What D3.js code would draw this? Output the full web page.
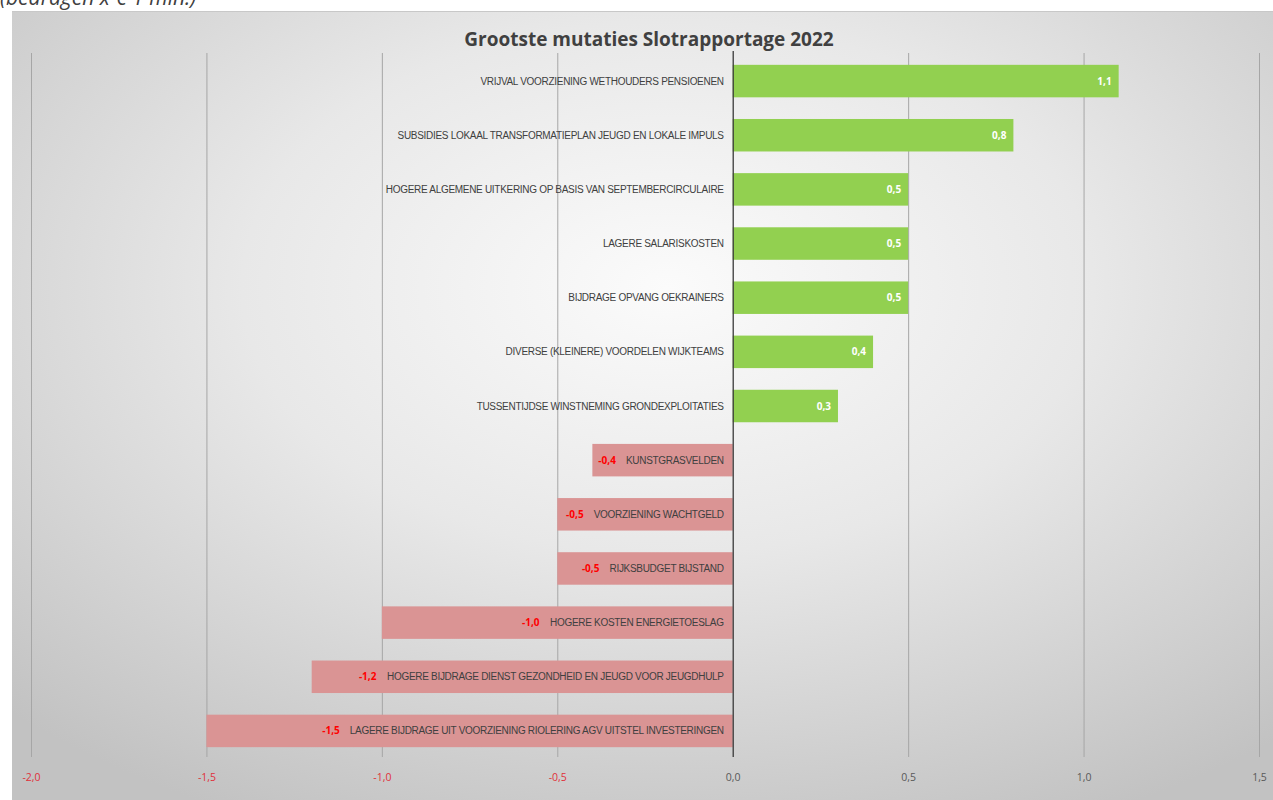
<!DOCTYPE html>
<html><head><meta charset="utf-8">
<script src="https://cdn.jsdelivr.net/npm/d3@7"></script>
<style>
body{margin:0;background:#fff;}
svg{display:block;}
</style></head>
<body>
<svg id="c" width="1273" height="800"></svg>
<script>
const categories = [
 "VRIJVAL VOORZIENING WETHOUDERS PENSIOENEN",
 "SUBSIDIES LOKAAL TRANSFORMATIEPLAN JEUGD EN LOKALE IMPULS",
 "HOGERE ALGEMENE UITKERING OP BASIS VAN SEPTEMBERCIRCULAIRE",
 "LAGERE SALARISKOSTEN",
 "BIJDRAGE OPVANG OEKRAINERS",
 "DIVERSE (KLEINERE) VOORDELEN WIJKTEAMS",
 "TUSSENTIJDSE WINSTNEMING GRONDEXPLOITATIES",
 "KUNSTGRASVELDEN",
 "VOORZIENING WACHTGELD",
 "RIJKSBUDGET BIJSTAND",
 "HOGERE KOSTEN ENERGIETOESLAG",
 "HOGERE BIJDRAGE DIENST GEZONDHEID EN JEUGD VOOR JEUGDHULP",
 "LAGERE BIJDRAGE UIT VOORZIENING RIOLERING AGV UITSTEL INVESTERINGEN"
];
const values = [1.1, 0.8, 0.5, 0.5, 0.5, 0.4, 0.3, -0.4, -0.5, -0.5, -1.0, -1.2, -1.5];
const tickValues = [-2.0, -1.5, -1.0, -0.5, 0.0, 0.5, 1.0, 1.5];
const title = "Grootste mutaties Slotrapportage 2022";
const subtitle = "(bedragen x € 1 mln.)";

const svg = d3.select("#c");
const fmt = v => d3.format(".1f")(v).replace(".", ",").replace("−","-");

// background panel
const defs = svg.append("defs");
const rg = defs.append("radialGradient").attr("id","bg")
  .attr("cx","0.52").attr("cy","0.35").attr("r","0.75");
rg.append("stop").attr("offset","0").attr("stop-color","#fbfbfb");
rg.append("stop").attr("offset","0.45").attr("stop-color","#e8e8e8");
rg.append("stop").attr("offset","1").attr("stop-color","#c2c2c2");
svg.append("rect").attr("x",12).attr("y",11).attr("width",1261).attr("height",789).attr("fill","url(#bg)");
svg.append("line").attr("x1",12).attr("x2",1273).attr("y1",11.5).attr("y2",11.5).attr("stroke","#c8c8c8");

svg.append("text").attr("x",0).attr("y",5).attr("font-family","'Open Sans', sans-serif")
  .attr("font-style","italic").attr("font-size",21).attr("fill","#404040").text(subtitle);

svg.append("text").attr("x",649).attr("y",46).attr("text-anchor","middle")
  .attr("font-family","'Open Sans', sans-serif").attr("font-weight","bold").attr("font-size",19)
  .attr("fill","#404040").text(title);

const x = d3.scaleLinear().domain([-2, 1.5]).range([31, 1259]);
const y = d3.scaleBand().domain(categories).range([54, 758]).paddingInner(0.4).paddingOuter(0.2);

const gTop = 53, gBot = 757;
// gridlines
svg.append("g").selectAll("line").data(tickValues.filter(d => d !== 0)).join("line")
  .attr("x1", d => x(d) + 0.5).attr("x2", d => x(d) + 0.5)
  .attr("y1", gTop).attr("y2", gBot).attr("stroke","#a6a6a6").attr("stroke-width",1);

// bars
svg.append("g").selectAll("rect").data(values).join("rect")
  .attr("x", d => x(Math.min(0,d))).attr("width", d => Math.abs(x(d) - x(0)))
  .attr("y", (d,i) => y(categories[i])).attr("height", y.bandwidth())
  .attr("fill", d => d >= 0 ? "#92d050" : "#da9494");

// zero axis
svg.append("line").attr("x1", x(0)+0.5).attr("x2", x(0)+0.5).attr("y1", gTop-2).attr("y2", gBot)
  .attr("stroke","#3a3a3a").attr("stroke-width",1.3);

// axis labels
const axis = d3.axisBottom(x).tickValues(tickValues).tickSize(0).tickFormat(fmt);
const ag = svg.append("g").attr("transform", `translate(0, 771)`).call(axis);
ag.select(".domain").remove();
ag.selectAll("text").attr("font-family","'Open Sans', sans-serif").attr("font-size",10.5)
  .attr("fill", d => d < 0 ? "#e0303a" : "#595959");

const labFont = "'Liberation Sans', Arial, sans-serif";
// category labels
const cl = svg.append("g").selectAll("text").data(categories).join("text")
  .attr("x", x(0) - 9).attr("y", d => y(d) + y.bandwidth()/2).attr("dy","0.35em")
  .attr("text-anchor","end").attr("font-family", labFont).attr("font-size",10)
  .attr("letter-spacing","-0.3")
  .attr("fill","#404040").text(d => d);

// value labels
const nodes = cl.nodes();
svg.append("g").selectAll("text").data(values).join("text")
  .attr("y", (d,i) => y(categories[i]) + y.bandwidth()/2).attr("dy","0.35em")
  .attr("font-family","'Open Sans', sans-serif").attr("font-weight","bold").attr("font-size",10)
  .attr("fill", d => d >= 0 ? "#ffffff" : "#ff0000")
  .attr("text-anchor", d => d >= 0 ? "end" : "start")
  .text(d => fmt(d))
  .each(function(d,i){
    if (d >= 0) { d3.select(this).attr("x", x(d) - 7); }
    else {
      const catStart = x(0) - 9 - nodes[i].getBBox().width;
      const w = this.getComputedTextLength();
      const pos = Math.max(x(d) + 5, catStart - 10 - w);
      d3.select(this).attr("x", pos);
    }
  });
</script>
</body></html>
